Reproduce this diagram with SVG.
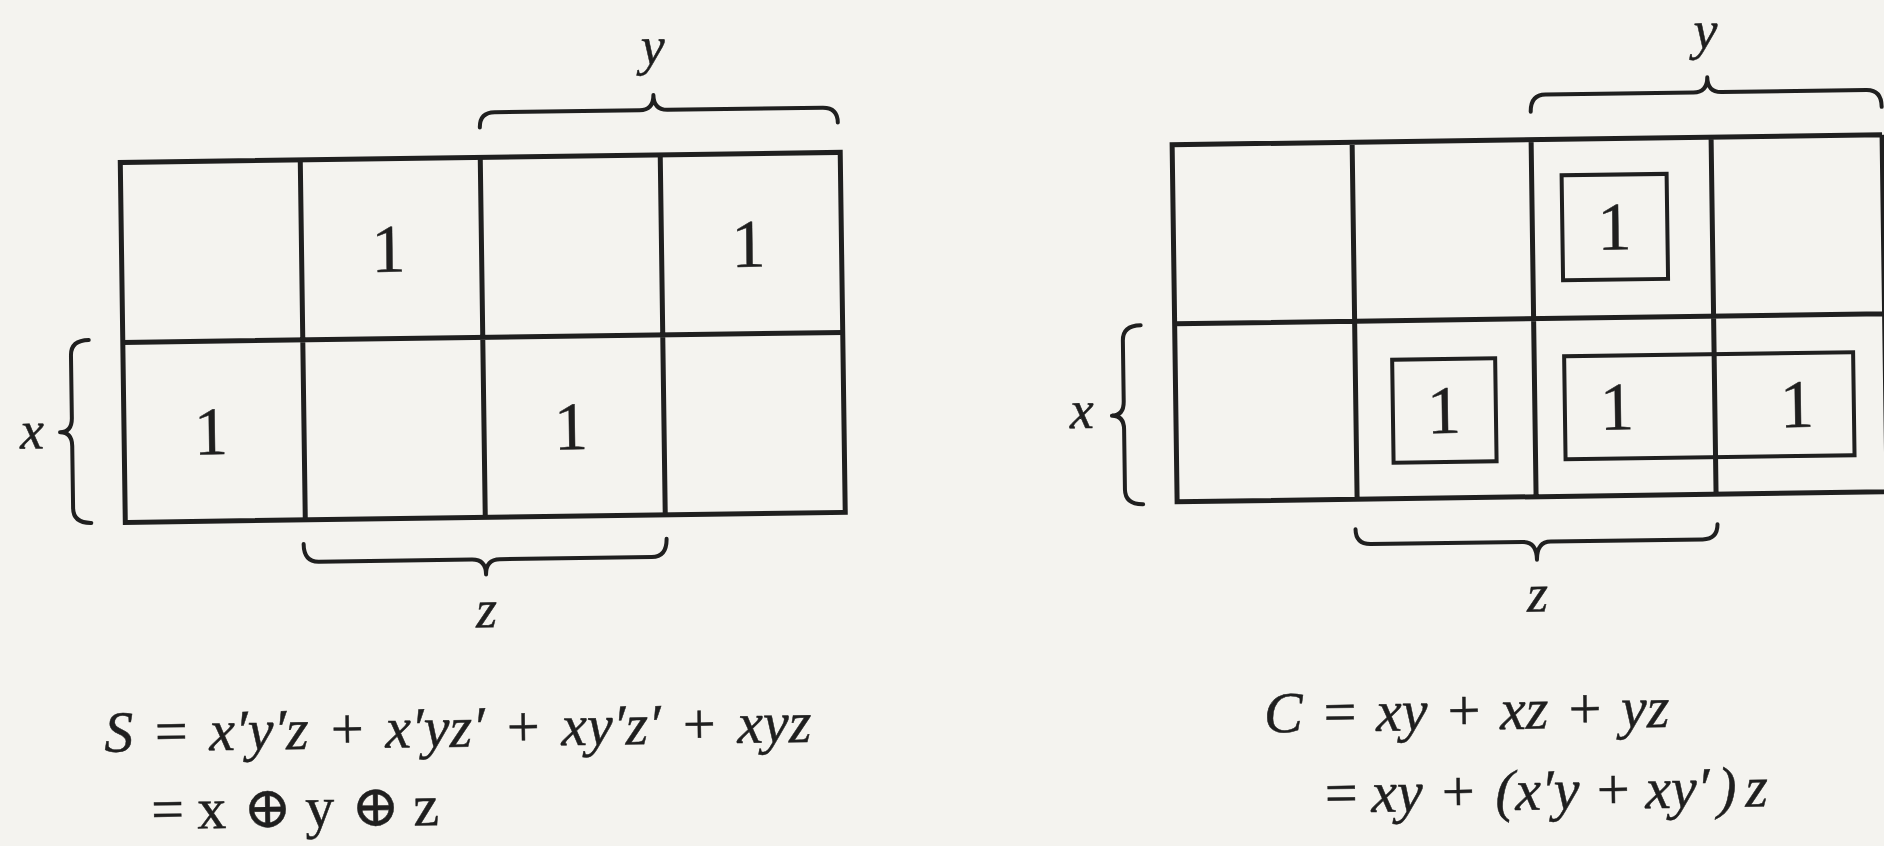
<svg xmlns="http://www.w3.org/2000/svg" width="1884" height="846" viewBox="0 0 1884 846">
<style>
.bg{fill:#f4f3ef}
.grid{fill:none;stroke:#1f1f1f;stroke-width:5}
.box{fill:none;stroke:#1f1f1f;stroke-width:4}
.brace{fill:none;stroke:#1f1f1f;stroke-width:4;stroke-linecap:round;stroke-linejoin:round}
text{fill:#1f1f1f;stroke:#1f1f1f;stroke-width:0.5}
.one{font-family:"Liberation Serif","DejaVu Serif",serif;font-size:68px;text-anchor:middle}
.lbl{font-family:"Liberation Serif","DejaVu Serif",serif;font-style:italic;font-size:54px;text-anchor:middle}
.eq{font-family:"Liberation Serif","DejaVu Serif",serif;font-style:italic;font-size:58px}
.up{font-family:"Liberation Serif","DejaVu Serif",serif;font-style:normal;font-size:58px}
</style>
<rect class="bg" x="0" y="0" width="1884" height="846"/>
<g transform="rotate(-0.8 942 423)">
  <g id="kmap-sum">
    <rect class="grid" x="124" y="151" width="720" height="360"/>
    <path class="grid" d="M304 151V511M484 151V511M664 151V511M124 331H844"/>
    <text class="one" x="391" y="264">1</text>
    <text class="one" x="751" y="264">1</text>
    <text class="one" x="211" y="444">1</text>
    <text class="one" x="571" y="444">1</text>
  </g>
  <g id="kmap-carry">
    <path class="grid" d="M1886 148H1176V505H1886M1356 148V505M1535 148V505M1715 148V505M1176 327H1886M1886 148V505"/>
    <rect class="box" x="1565" y="184" width="105" height="105"/>
    <rect class="box" x="1393" y="366" width="103" height="103"/>
    <rect class="box" x="1565" y="365" width="289" height="103"/>
    <text class="one" x="1617" y="259">1</text>
    <text class="one" x="1444" y="440">1</text>
    <text class="one" x="1617" y="439">1</text>
    <text class="one" x="1797" y="439">1</text>
  </g>
  <g id="braces">
    <path class="brace" d="M484 121Q484 106 499 106L644 106Q658 106 658 91Q658 106 672 106L827 106Q842 106 842 121"/>
    <path class="brace" d="M302 535Q302 553 317 553L470 553Q484 553 484 568Q484 553 498 553L650 553Q665 553 665 535"/>
    <path class="brace" d="M90 328Q72 328 72 343L72 406Q72 420 60 420Q72 420 72 434L72 496Q72 511 90 511"/>
    <path class="brace" d="M1535 120Q1535 103 1550 103L1698 103Q1712 103 1712 88Q1712 103 1726 103L1871 103Q1886 103 1886 120"/>
    <path class="brace" d="M1354 535Q1354 550 1369 550L1521 550Q1535 550 1535 568Q1535 550 1549 550L1701 550Q1716 550 1716 535"/>
    <path class="brace" d="M1142 328Q1124 328 1124 343L1124 404Q1124 418 1112 418Q1124 418 1124 432L1124 492Q1124 507 1142 507"/>
  </g>
  <g id="labels">
    <text class="lbl" x="658" y="60">y</text>
    <text class="lbl" x="484" y="621">z</text>
    <text class="lbl" x="32" y="436">x</text>
    <text class="lbl" x="1711" y="59">y</text>
    <text class="lbl" x="1535" y="620">z</text>
    <text class="lbl" x="1082" y="430">x</text>
  </g>
  <g id="eq-sum">
    <text class="eq" y="740"><tspan x="100">S</tspan><tspan x="147">=</tspan><tspan x="205">x′y′z</tspan><tspan x="323">+</tspan><tspan x="381">x′yz′</tspan><tspan x="499">+</tspan><tspan x="557">xy′z′</tspan><tspan x="675">+</tspan><tspan x="733">xyz</tspan></text>
    <text class="up" y="818"><tspan x="146">=</tspan><tspan x="192">x</tspan><tspan x="238">⊕</tspan><tspan x="300">y</tspan><tspan x="346">⊕</tspan><tspan x="408">z</tspan></text>
  </g>
  <g id="eq-carry">
    <text class="eq" y="737"><tspan x="1260">C</tspan><tspan x="1316">=</tspan><tspan x="1372">xy</tspan><tspan x="1440">+</tspan><tspan x="1496">xz</tspan><tspan x="1561">+</tspan><tspan x="1617">yz</tspan></text>
    <text class="eq" y="818"><tspan x="1316">=</tspan><tspan x="1366">xy</tspan><tspan x="1433">+</tspan><tspan x="1490">(</tspan><tspan x="1510">x′y</tspan><tspan x="1588">+</tspan><tspan x="1640">xy′</tspan><tspan x="1712">)</tspan><tspan x="1740">z</tspan></text>
  </g>
</g>
</svg>
